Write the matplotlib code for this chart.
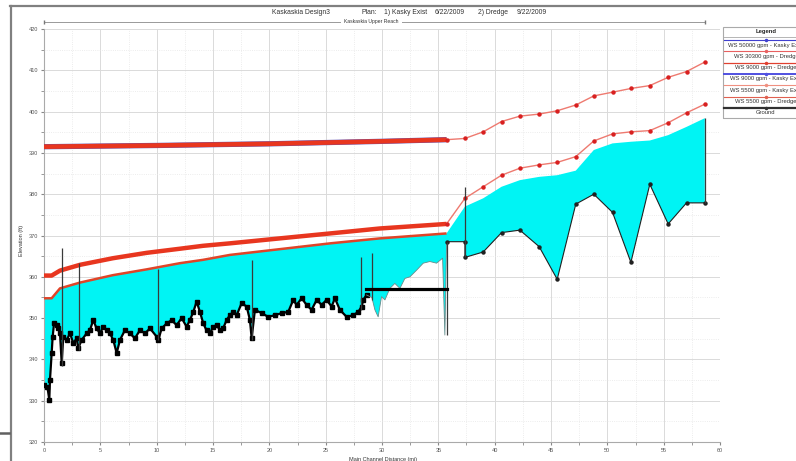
import numpy as np
import matplotlib
matplotlib.use('Agg')
import matplotlib.pyplot as plt
from matplotlib.lines import Line2D
from matplotlib.patches import Rectangle

plt.rcParams['font.family'] = ['Liberation Sans', 'DejaVu Sans']

# ground, dense surveyed part (0 - 28.6 mi)
gx_dense = [0.0, 0.3, 0.47, 0.53, 0.68, 0.77, 0.89, 1.13, 1.27, 1.42, 1.57, 1.71, 2.01, 2.31,
            2.6, 2.9, 3.04, 3.34, 3.79, 4.08, 4.37, 4.67, 4.97, 5.26, 5.56, 5.85, 6.15, 6.45,
            6.74, 7.19, 7.63, 8.07, 8.52, 8.96, 9.41, 10.0, 10.15, 10.44, 10.89, 11.33, 11.77,
            12.22, 12.66, 12.95, 13.25, 13.55, 13.84, 14.14, 14.43, 14.73, 15.02, 15.32, 15.62,
            15.9, 16.2, 16.5, 16.8, 17.1, 17.54, 17.99, 18.28, 18.43, 18.72, 19.32, 19.9, 20.5,
            21.09, 21.68, 22.12, 22.42, 22.87, 23.31, 23.75, 24.2, 24.64, 25.08, 25.53, 25.82,
            26.26, 26.86, 27.45, 27.89, 28.2, 28.33, 28.63]
gz_dense = [333.8, 333.4, 330.2, 335.0, 341.5, 345.5, 348.7, 348.3, 347.5, 346.3, 339.1, 345.5,
            344.7, 346.3, 343.9, 345.1, 342.7, 344.7, 346.3, 347.1, 349.5, 347.5, 346.3, 347.9,
            347.1, 346.3, 344.7, 341.5, 344.7, 347.1, 346.3, 345.1, 347.1, 346.3, 347.5, 345.5,
            344.7, 347.5, 348.7, 349.5, 348.3, 350.0, 347.9, 349.5, 351.5, 354.0, 351.5, 348.7,
            347.0, 346.3, 347.9, 348.3, 347.1, 347.5, 349.5, 350.7, 351.5, 350.7, 353.6, 352.8,
            349.5, 345.1, 352.0, 351.2, 350.3, 350.7, 351.2, 351.5, 354.4, 353.2, 354.8, 353.2,
            352.0, 354.4, 353.2, 354.4, 352.8, 354.8, 352.0, 350.3, 350.7, 351.5, 352.8, 354.4,
            355.6]

# ground, thin part behind the weir and the bridge deck
gx_thin = [28.63, 29.1, 29.37, 29.66, 29.96, 30.26, 30.7, 31.14, 31.59, 32.03, 32.48, 33.07,
           33.66, 34.25, 34.84, 35.38, 35.58, 35.73]
gz_thin = [355.6, 355.0, 352.0, 350.3, 355.2, 354.4, 357.2, 358.4, 357.2, 359.6, 360.0, 361.6,
           363.3, 363.7, 363.3, 364.5, 345.9, 368.5]

# cross sections downstream part
xs_x = [35.73, 37.36, 37.36, 38.98, 40.61, 42.24, 43.95, 45.55, 47.2, 48.8, 50.46, 52.09,
        53.77, 55.4, 57.03, 58.65]
xs_ground = [368.5, 368.5, 364.7, 366.0, 370.7, 371.3, 367.3, 359.4, 377.6, 380.0, 375.6, 363.5,
             382.4, 372.8, 377.9, 377.9]

# water surfaces
ws_hi_x = [0, 10, 20, 30, 35.73]
ws_hi_z = [391.5, 391.8, 392.2, 392.8, 393.2]
ws_mid_x = [0, 0.68, 1.42, 3.19, 6.12, 9.11, 12.07, 14.1, 16.5, 22.4, 25.4, 29.8, 35.73]
ws_mid_z = [360.3, 360.3, 361.5, 362.9, 364.5, 365.8, 366.8, 367.5, 368.1, 369.7, 370.5, 371.7, 372.8]
ws_lo_x = [0, 0.68, 1.42, 3.19, 6.12, 9.11, 12.07, 14.1, 16.5, 25.4, 29.8, 35.73]
ws_lo_z = [354.8, 354.8, 357.2, 358.6, 360.4, 361.8, 363.3, 364.1, 365.3, 368.1, 369.3, 370.5]

ds_x = [35.73, 37.36, 38.98, 40.61, 42.24, 43.95, 45.55, 47.2, 48.8, 50.46, 52.09, 53.77,
        55.4, 57.03, 58.65]
ds_hi = [393.2, 393.5, 395.1, 397.6, 398.9, 399.4, 400.2, 401.6, 403.8, 404.7, 405.6, 406.3,
         408.3, 409.7, 412.0]
ds_mid = [372.8, 379.0, 381.8, 384.6, 386.3, 387.1, 387.7, 389.1, 392.9, 394.6, 395.1, 395.4,
          397.3, 399.7, 401.8]
ds_lo = [370.5, 377.0, 379.0, 381.8, 383.4, 384.2, 384.6, 385.7, 390.7, 392.3, 392.7, 393.0,
         394.3, 396.3, 398.4]

# structure lines
vl_x = [1.57, 3.1, 10.15, 18.43, 28.1, 29.1, 35.73, 37.36, 58.65]
vl_lo = [338.5, 342.3, 344.7, 344.7, 352.0, 354.4, 345.9, 364.7, 377.9]
vl_hi = [367.0, 363.4, 361.8, 364.1, 364.7, 365.7, 368.5, 381.8, 398.4]
weir_x = [28.57, 35.73]
weir_z = [357.0, 357.0]

title_parts = ['Kaskaskia Design3', 'Plan:', '1) Kasky Exist', '6/22/2009', '2) Dredge',
               '9/22/2009']
legend_rows = [('WS 50000 gpm - Kasky Exist', '#4040d0', 0.8),
               ('WS 30300 gpm - Dredge', '#e86060', 0.8),
               ('WS 9000 gpm - Dredge', '#e04030', 0.9),
               ('WS 9000 gpm - Kasky Exist', '#5050e0', 1.4),
               ('WS 5500 gpm - Kasky Exist', '#f09080', 0.8),
               ('WS 5500 gpm - Dredge', '#e06050', 0.8),
               ('Ground', '#303030', 1.6)]

W, H = 796, 461
fig = plt.figure(figsize=(W / 100, H / 100), dpi=100)
ax = fig.add_axes([44 / W, 1 - 442 / H, (720 - 44) / W, (442 - 29) / H])

def fx(p):
    return p / W

def fy(p):
    return 1 - p / H

# water fill between lowest ws and ground
wsx = list(ws_lo_x) + list(ds_x[1:])
wsz = list(ws_lo_z) + list(ds_lo[1:])
gx = gx_dense + gx_thin[1:] + xs_x[1:]
gz = gz_dense + gz_thin[1:] + xs_ground[1:]
ax.fill(np.concatenate([wsx, gx[::-1]]), np.concatenate([wsz, gz[::-1]]),
        color='#00f4f4', lw=0, zorder=2)

ax.plot(ws_hi_x, ws_hi_z, color='#6050b0', lw=3.8, zorder=3, solid_capstyle='butt')
ax.plot(ws_hi_x, ws_hi_z, color='#e8361f', lw=3.3, zorder=3, solid_capstyle='butt')
ax.plot(ws_mid_x, ws_mid_z, color='#e8361f', lw=3.2, zorder=3, solid_capstyle='butt')
ax.plot(ws_lo_x, ws_lo_z, color='#e04428', lw=1.8, zorder=3, solid_capstyle='butt')
ax.plot(ds_x, ds_hi, color='#ee7a70', lw=1.0, marker='o', ms=2.2, mfc='#d82020',
        mec='#d82020', zorder=3)
ax.plot(ds_x, ds_mid, color='#ee7a70', lw=1.0, marker='o', ms=2.2, mfc='#d82020',
        mec='#d82020', zorder=3)

ax.plot(gx_dense, gz_dense, color='black', lw=1.6, marker='s', ms=2.4, zorder=4)
ax.plot(gx_thin, gz_thin, color='#6a8a8a', lw=0.6, zorder=4)
ax.plot(xs_x, xs_ground, color='#202020', lw=0.8, marker='o', ms=2.2, zorder=4)
ax.vlines(vl_x, vl_lo, vl_hi, color='#3a3a3a', lw=0.9, zorder=4)
ax.plot(weir_x, weir_z, color='black', lw=2.3, zorder=5)

ax.set_xlim(0, 60)
ax.set_ylim(320, 420)
ax.set_xticks(np.arange(0, 61, 5))
ax.set_yticks(np.arange(320, 421, 10))
ax.set_xticks(np.arange(0, 61, 2.5), minor=True)
ax.set_yticks(np.arange(320, 421, 5), minor=True)
ax.grid(True, which='major', color='#dadada', lw=0.7)
ax.grid(True, which='minor', color='#e6e6e6', lw=0.6, ls=':')
ax.set_axisbelow(True)
ax.tick_params(which='both', labelsize=4, colors='#888888', labelcolor='#555555', length=2, pad=2)
for s in ['top', 'right']:
    ax.spines[s].set_visible(False)
for s in ['left', 'bottom']:
    ax.spines[s].set_color('#aaaaaa')
    ax.spines[s].set_linewidth(0.8)

fig.text(fx(22), fy(240), 'Elevation (ft)', rotation=90, fontsize=4, color='#333333',
         ha='center', va='center')
fig.text(fx(383), fy(459), 'Main Channel Distance (mi)', fontsize=4, color='#333333',
         ha='center', va='center')

# title
for txt, xp in zip(title_parts, [272, 362, 384, 435, 478, 517]):
    fig.text(fx(xp), fy(13), txt, fontsize=4.9, color='#333333', ha='left', va='center')

# reach line
fig.add_artist(Line2D([fx(44), fx(340)], [fy(22), fy(22)], color='#999999', lw=0.7))
fig.add_artist(Line2D([fx(402), fx(705)], [fy(22), fy(22)], color='#999999', lw=0.7))
fig.add_artist(Line2D([fx(44), fx(705)], [fy(22), fy(22)], color='#777777', lw=0,
                      marker='|', ms=3))
fig.text(fx(371), fy(22), 'Kaskaskia Upper Reach', fontsize=3.6, color='#333333',
         ha='center', va='center')

# frame
fig.add_artist(Line2D([fx(10), fx(796)], [fy(6), fy(6)], color='#808080', lw=1.6))
fig.add_artist(Line2D([fx(11), fx(11)], [fy(6), fy(461)], color='#808080', lw=1.6))
fig.add_artist(Line2D([fx(0), fx(9)], [fy(433), fy(433)], color='#606060', lw=1.8))

# legend (runs off the right edge as in the original screenshot)
fig.add_artist(Rectangle((fx(723), fy(118)), fx(100), (118 - 27) / H, fill=False,
                         ec='#aaaaaa', lw=0.8))
fig.add_artist(Line2D([fx(723), fx(823)], [fy(37), fy(37)], color='#aaaaaa', lw=0.6))
fig.text(fx(766), fy(32), 'Legend', fontsize=4.2, fontweight='bold', color='#222222',
         ha='center', va='center')
for i, (lab, col, lw) in enumerate(legend_rows):
    yl = 40 + i * 11.3
    fig.add_artist(Line2D([fx(724), fx(822)], [fy(yl), fy(yl)], color=col, lw=lw))
    fig.add_artist(Line2D([fx(766)], [fy(yl)], color=col, lw=0, marker='o', ms=1.5))
    fig.text(fx(766), fy(yl + 5), lab, fontsize=4.2, color='#333333', ha='center',
             va='center')

fig.savefig('out.png', dpi=100)
